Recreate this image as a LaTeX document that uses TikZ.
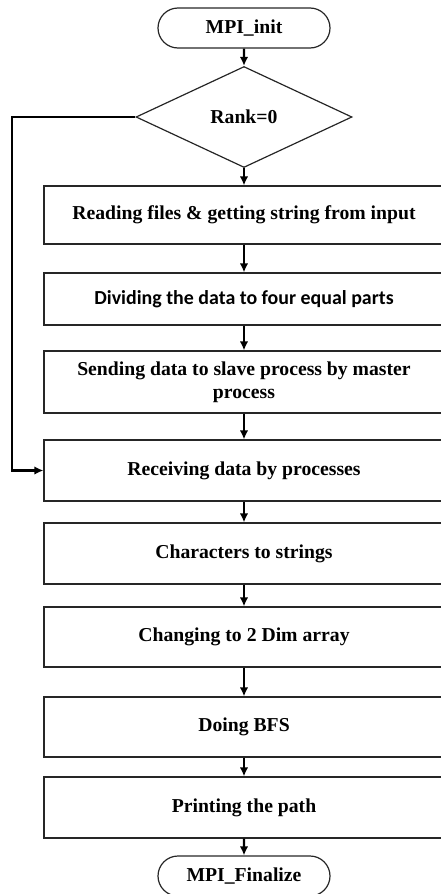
\documentclass[tikz,border=0pt]{standalone}
\usepackage{fontspec}
\setmainfont{Liberation Serif}
\newfontfamily\calib{Carlito}
\usetikzlibrary{shapes.geometric,shapes.misc,arrows.meta}

\begin{document}
\begin{tikzpicture}[x=1pt, y=-1pt,
	terminal/.style={draw=black!85, line width=1.2pt, rounded rectangle, minimum width=172pt, minimum height=40pt, inner sep=0pt, font=\fontsize{19.7}{23}\selectfont\bfseries},
	decision/.style={draw=black!85, line width=1.2pt, diamond, aspect=2.14, minimum width=216pt, minimum height=101pt, inner sep=0pt, font=\fontsize{19.7}{23}\selectfont\bfseries},
	process/.style={draw=black!85, line width=1.2pt, rectangle, minimum width=400pt, inner sep=0pt, align=center, font=\fontsize{19.7}{23}\selectfont\bfseries},
	flow/.style={line width=2.2pt, arrows={-{Latex[length=9pt, width=8.5pt]}}}]
	\useasboundingbox (0,0) rectangle (440,894);
	\node[terminal] (init) at (244,28) {MPI\_init};
	\node[decision] (rank) at (244,117) {Rank=0};
	\node[process, minimum height=58pt] (read) at (244,215) {Reading files \& getting string from input};
	\node[process, minimum height=52pt, font=\fontsize{19.9}{23}\selectfont\calib\bfseries] (divide) at (244,299) {Dividing the data to four equal parts};
	\node[process, minimum height=62pt] (send) at (244,382) {Sending data to slave process by master\\process};
	\node[process, minimum height=61pt] (recv) at (244,470.5) {Receiving data by processes};
	\node[process, minimum height=61pt] (chars) at (244,553.5) {Characters to strings};
	\node[process, minimum height=60pt] (dim) at (244,637) {Changing to 2 Dim array};
	\node[process, minimum height=60pt] (bfs) at (244,727) {Doing BFS};
	\node[process, minimum height=61pt] (path) at (244,807.5) {Printing the path};
	\node[terminal] (fin) at (244,876) {MPI\_Finalize};
	% main flow
	\draw[flow] (init) -- (rank);
	\draw[flow] (rank) -- (read);
	\draw[flow] (read) -- (divide);
	\draw[flow] (divide) -- (send);
	\draw[flow] (send) -- (recv);
	\draw[flow] (recv) -- (chars);
	\draw[flow] (chars) -- (dim);
	\draw[flow] (dim) -- (bfs);
	\draw[flow] (bfs) -- (path);
	\draw[flow] (path) -- (fin);
	% rank /= 0 skips to receiving
	\coordinate (loop) at (12,117);
	\draw[flow] (rank.west) -- (loop) |- (recv.west);
\end{tikzpicture}
\end{document}
